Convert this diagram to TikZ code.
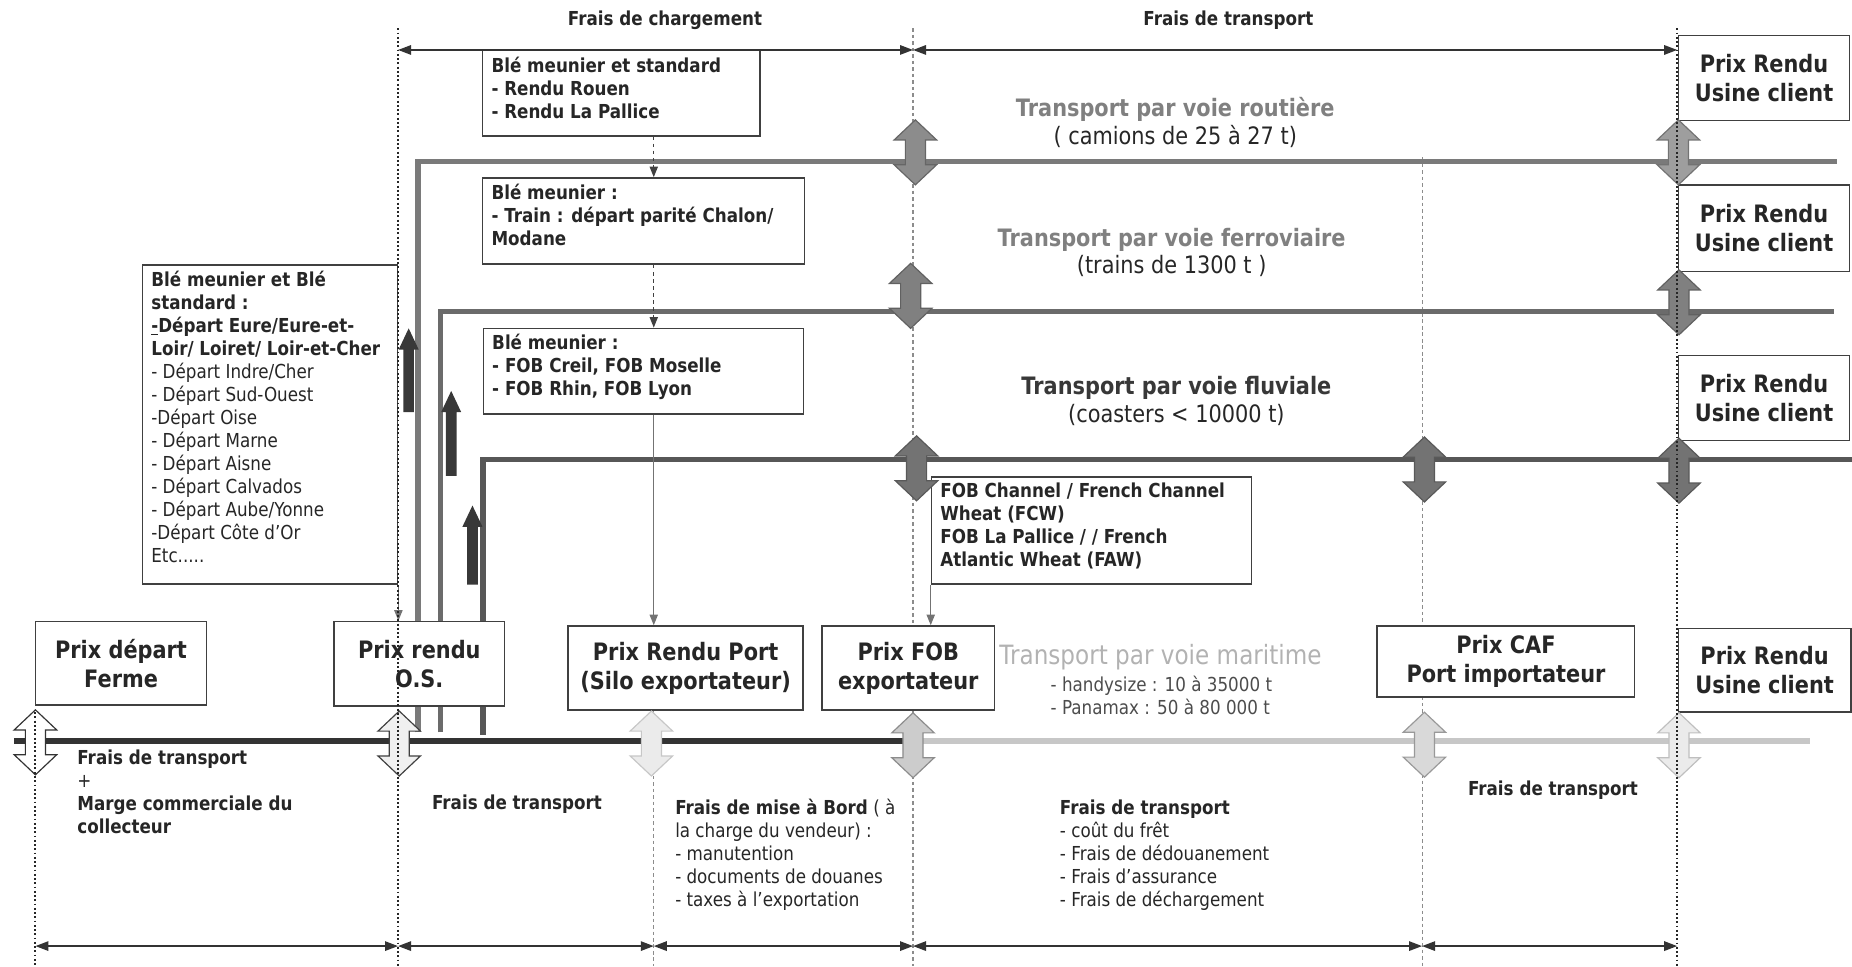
\documentclass[tikz,border=0pt]{standalone}
\usepackage{fontspec}
\setmainfont{DejaVu Sans}[FakeStretch=0.87]
\usetikzlibrary{arrows.meta}
\usetikzlibrary{calc}

% vertical double arrow: centre x, centre y, fill, outline
\newcommand{\bothways}[4]{%
  \filldraw[fill=#3, draw=#4, line width=1pt]
    (#1,#2-27.5) -- (#1+18,#2-10.5) -- (#1+8.5,#2-10.5) -- (#1+8.5,#2+10.5)
    -- (#1+18,#2+10.5) -- (#1,#2+27.5) -- (#1-18,#2+10.5) -- (#1-8.5,#2+10.5)
    -- (#1-8.5,#2-10.5) -- (#1-18,#2-10.5) -- cycle;}

% black block arrow going up: x, tip y, foot y
\newcommand{\liftarrow}[3]{%
  \fill[black!78] (#1,#2) -- (#1+8.5,#2+18) -- (#1+4.5,#2+18) -- (#1+4.5,#3)
    -- (#1-4.5,#3) -- (#1-4.5,#2+18) -- (#1-8.5,#2+18) -- cycle;}

\begin{document}
\begin{tikzpicture}[x=1pt, y=-1pt, >={Triangle[length=11pt,width=8pt]},
    every node/.append style={text=black!85},
    smalltxt/.style={font=\fontsize{16.3}{19.5}\selectfont},
    bigtxt/.style={font=\fontsize{20.3}{23.5}\selectfont},
    prixbox/.style={draw=black!75, line width=1.3pt, fill=white, inner sep=0pt,
      align=center, font=\fontsize{20.3}{24.5}\selectfont\bfseries},
    blebox/.style={draw=black!75, line width=1.3pt, fill=white, anchor=north west,
      inner xsep=7.5pt, inner ysep=5pt, smalltxt},
    note/.style={smalltxt, anchor=north west, inner sep=0pt, align=left},
    guide/.style={black!85, line width=1.6pt, dotted},
    gridline/.style={black!45, line width=0.9pt, dash pattern=on 3pt off 2.5pt},
    railbar/.style={line width=4.5pt},
    dimarrow/.style={<->, black!80, line width=1.3pt},
    feed/.style={-{Triangle[length=9pt,width=7pt]}, black!55, line width=1pt}]

\useasboundingbox (0,0) rectangle (1568,818);

% columns and rows
\coordinate (c0) at (30,0);
\coordinate (c1) at (337,0);
\coordinate (c2) at (553.5,0);
\coordinate (c3) at (773,0);
\coordinate (c4) at (1204,0);
\coordinate (c5) at (1420,0);
\coordinate (toprow) at (0,42.3);
\coordinate (lowrow) at (0,801);
\coordinate (topedge) at (0,24);
\coordinate (cafedge) at (0,133);
\coordinate (leftedge) at (0,603);
\coordinate (botedge) at (0,818);

\draw[gridline] (c3 |- topedge) -- (c3 |- botedge);
\draw[gridline] (c4 |- cafedge) -- (c4 |- botedge);

% road, rail, river, sea
\draw[railbar, black!52] (354,620) |- (1555,137);
\draw[railbar, black!58] (373,620) |- (1553,264);
\draw[railbar, black!66] (409,622) |- (1568,389);
\draw[railbar, black!80, line width=5pt] (12,627) -- (773,627);
\draw[railbar, black!22, line width=5pt] (773,627) -- (1532,627);

% price boxes
\node[prixbox, minimum width=145pt, minimum height=71pt] (ferme) at (102.5,561.5) {Prix départ\\Ferme};
\node[prixbox, minimum width=144pt, minimum height=71.5pt] (os) at (355,562) {Prix rendu\\O.S.};
\node[prixbox, minimum width=199pt, minimum height=71pt] (silo) at (580.5,565.5) {Prix Rendu Port\\(Silo exportateur)};
\node[prixbox, minimum width=146pt, minimum height=71pt] (fob) at (769,565.5) {Prix FOB\\exportateur};
\node[prixbox, minimum width=218pt, minimum height=60pt] (caf) at (1275,560) {Prix CAF\\Port importateur};
\node[prixbox, minimum width=146pt, minimum height=71pt] (usine0) at (1494,567.5) {Prix Rendu\\Usine client};
\node[prixbox, minimum width=145pt, minimum height=72pt] (usine1) at (1493.5,66) {Prix Rendu\\Usine client};
\node[prixbox, minimum width=145pt, minimum height=73pt] (usine2) at (1493.5,193.3) {Prix Rendu\\Usine client};
\node[prixbox, minimum width=145pt, minimum height=72pt] (usine3) at (1493.5,337) {Prix Rendu\\Usine client};

% origin boxes
\node[blebox] (origins) at (120,223.5) {\parbox[c][260.5pt][t]{201pt}{\raggedright
  \bfseries Blé meunier et Blé\\standard :\\\underline{-}Départ Eure/Eure-et-\\Loir/ Loiret/ Loir-et-Cher\\
  \mdseries - Départ Indre/Cher\\- Départ Sud-Ouest\\-Départ Oise\\- Départ Marne\\- Départ Aisne\\
  - Départ Calvados\\- Départ Aube/Yonne\\-Départ Côte d’Or\\Etc.....}};
\node[blebox] (bleA) at (408,42.3) {\parbox[c][62pt][t]{220pt}{\raggedright\bfseries
  Blé meunier et standard\\- Rendu Rouen\\- Rendu La Pallice}};
\node[blebox] (bleB) at (408,150) {\parbox[c][63pt][t]{257.5pt}{\raggedright\bfseries
  Blé meunier :\\- Train : départ parité Chalon/\\Modane}};
\node[blebox] (bleC) at (408.6,277.4) {\parbox[c][62.6pt][t]{256pt}{\raggedright\bfseries
  Blé meunier :\\- FOB Creil, FOB Moselle\\- FOB Rhin, FOB Lyon}};
\node[blebox] (fobnote) at (788,403) {\parbox[c][81pt][t]{256pt}{\raggedright\bfseries
  FOB Channel / French Channel\\Wheat (FCW)\\FOB La Pallice / / French\\Atlantic Wheat (FAW)}};

\draw[gridline] (c2 |- silo.south) -- (c2 |- botedge);

\draw[feed, dashed, black!75] (bleA.south -| c2) -- (bleB.north -| c2);
\draw[feed, dashed, black!75] (bleB.south -| c2) -- (bleC.north -| c2);
\draw[feed] (bleC.south -| c2) -- (silo.north -| c2);
\draw[feed] (fobnote.south west) -- (fobnote.south west |- fob.north);
\draw[feed] (origins.south east) -- (origins.south east |- os.north);

% arrows on the lines
\bothways{775}{129}{black!45}{black!60}
\bothways{1421}{129}{black!38}{black!55}
\bothways{771}{250.5}{black!50}{black!62}
\bothways{1421.5}{256}{black!50}{black!62}
\bothways{776}{396.5}{black!55}{black!65}
\bothways{1206}{397.5}{black!55}{black!65}
\bothways{1421.5}{398.5}{black!55}{black!65}
\bothways{30}{628.5}{white}{black!80}
\bothways{338}{629.5}{black!6}{black!75}
\bothways{551.5}{629.5}{black!8}{black!22}
\bothways{773}{631}{black!20}{black!45}
\bothways{1206}{630.5}{black!15}{black!40}
\bothways{1421.5}{631}{black!8}{black!25}

\liftarrow{346}{278}{349}
\liftarrow{382}{331}{403}
\liftarrow{400}{428}{495}

\draw[guide] (c0 |- leftedge) -- (c0 |- botedge);
\draw[guide] (c1 |- topedge) -- (c1 |- botedge);
\draw[guide] (c5 |- topedge) -- (c5 |- botedge);

% costs
\draw[dimarrow] (c1 |- toprow) -- (c3 |- toprow);
\draw[dimarrow] (c3 |- toprow) -- (c5 |- toprow);
\node[smalltxt] (chargement) at (563,17) {\bfseries Frais de chargement};
\node[smalltxt] (transport) at (1040,17) {\bfseries Frais de transport};

\draw[dimarrow] (c0 |- lowrow) -- (c1 |- lowrow);
\draw[dimarrow] (c1 |- lowrow) -- (c2 |- lowrow);
\draw[dimarrow] (c2 |- lowrow) -- (c3 |- lowrow);
\draw[dimarrow] (c3 |- lowrow) -- (c4 |- lowrow);
\draw[dimarrow] (c4 |- lowrow) -- (c5 |- lowrow);

\node[bigtxt, align=center] (routelbl) at (995,103.4)
  {\textcolor{black!50}{\bfseries Transport par voie routière}\\( camions de 25 à 27 t)};
\node[bigtxt, align=center] (raillbl) at (992,213.8)
  {\textcolor{black!50}{\bfseries Transport par voie ferroviaire}\\(trains de 1300 t )};
\node[bigtxt, align=center] (riverlbl) at (996,339.4)
  {\textcolor{black!78}{\bfseries Transport par voie fluviale}\\(coasters < 10000 t)};
\node[font=\fontsize{22.5}{26}\selectfont, text=black!30] (sealbl) at (982.5,556) {Transport par voie maritime};
\node[note, text=black!70] (sealines) at (889.4,572) {- handysize : 10 à 35000 t\\- Panamax : 50 à 80 000 t};

\node[note] (farmcost) at (65.3,634.3) {\textbf{Frais de transport}\\+\\\textbf{Marge commerciale du}\\\textbf{collecteur}};
\node[note] (oscost) at (365.6,672.9) {\textbf{Frais de transport}};
\node[note] (silocost) at (571.5,676.3) {\textbf{Frais de mise à Bord} ( à\\la charge du vendeur) :\\- manutention\\- documents de douanes\\- taxes à l’exportation};
\node[note] (seacost) at (897.2,676.8) {\textbf{Frais de transport}\\- coût du frêt\\- Frais de dédouanement\\- Frais d’assurance\\- Frais de déchargement};
\node[note] (cafcost) at (1242.7,660.8) {\textbf{Frais de transport}};

\end{tikzpicture}
\end{document}
